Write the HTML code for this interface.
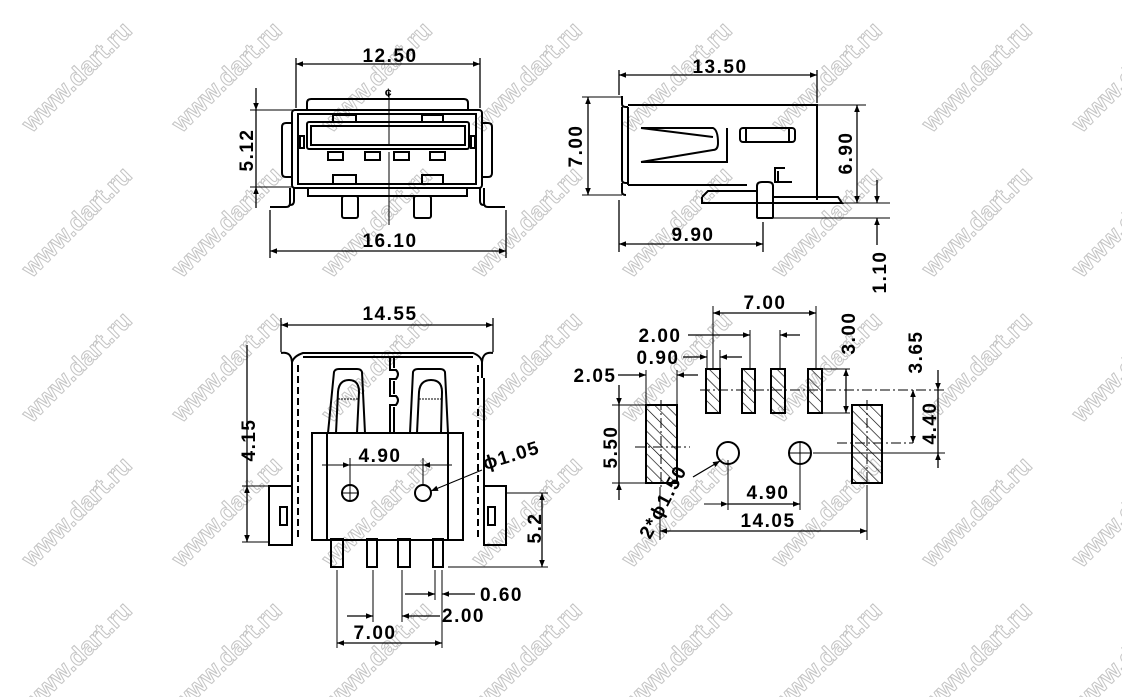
<!DOCTYPE html>
<html><head><meta charset="utf-8"><style>
html,body{margin:0;padding:0;background:#fff;width:1122px;height:697px;overflow:hidden}
svg{display:block}
text{font-family:"Liberation Sans",Arial,sans-serif;font-size:19px;font-weight:bold;fill:#000;letter-spacing:1.5px}
text.w{font-size:25px;font-weight:bold;fill:#fff;stroke:#c4c4c4;stroke-width:1;letter-spacing:0}
</style></head><body>
<svg width="1122" height="697" viewBox="0 0 1122 697" xmlns="http://www.w3.org/2000/svg">
<defs>
<marker id="a" viewBox="0 0 10 10" refX="10" refY="5" markerWidth="10" markerHeight="7" orient="auto-start-reverse" markerUnits="userSpaceOnUse"><path d="M0,1 L10,5 L0,9 z" fill="#000"/></marker>
<pattern id="h" width="8" height="8" patternUnits="userSpaceOnUse" patternTransform="rotate(-45)"><line x1="0" y1="0" x2="0" y2="8" stroke="#000" stroke-width="1.3"/></pattern>
</defs>
<g>
<text class="w" transform="translate(77,77) rotate(-45)" text-anchor="middle" dy="8">www.dart.ru</text>
<text class="w" transform="translate(227,77) rotate(-45)" text-anchor="middle" dy="8">www.dart.ru</text>
<text class="w" transform="translate(377,77) rotate(-45)" text-anchor="middle" dy="8">www.dart.ru</text>
<text class="w" transform="translate(527,77) rotate(-45)" text-anchor="middle" dy="8">www.dart.ru</text>
<text class="w" transform="translate(677,77) rotate(-45)" text-anchor="middle" dy="8">www.dart.ru</text>
<text class="w" transform="translate(827,77) rotate(-45)" text-anchor="middle" dy="8">www.dart.ru</text>
<text class="w" transform="translate(977,77) rotate(-45)" text-anchor="middle" dy="8">www.dart.ru</text>
<text class="w" transform="translate(1127,77) rotate(-45)" text-anchor="middle" dy="8">www.dart.ru</text>
<text class="w" transform="translate(77,222) rotate(-45)" text-anchor="middle" dy="8">www.dart.ru</text>
<text class="w" transform="translate(227,222) rotate(-45)" text-anchor="middle" dy="8">www.dart.ru</text>
<text class="w" transform="translate(377,222) rotate(-45)" text-anchor="middle" dy="8">www.dart.ru</text>
<text class="w" transform="translate(527,222) rotate(-45)" text-anchor="middle" dy="8">www.dart.ru</text>
<text class="w" transform="translate(677,222) rotate(-45)" text-anchor="middle" dy="8">www.dart.ru</text>
<text class="w" transform="translate(827,222) rotate(-45)" text-anchor="middle" dy="8">www.dart.ru</text>
<text class="w" transform="translate(977,222) rotate(-45)" text-anchor="middle" dy="8">www.dart.ru</text>
<text class="w" transform="translate(1127,222) rotate(-45)" text-anchor="middle" dy="8">www.dart.ru</text>
<text class="w" transform="translate(77,367) rotate(-45)" text-anchor="middle" dy="8">www.dart.ru</text>
<text class="w" transform="translate(227,367) rotate(-45)" text-anchor="middle" dy="8">www.dart.ru</text>
<text class="w" transform="translate(377,367) rotate(-45)" text-anchor="middle" dy="8">www.dart.ru</text>
<text class="w" transform="translate(527,367) rotate(-45)" text-anchor="middle" dy="8">www.dart.ru</text>
<text class="w" transform="translate(677,367) rotate(-45)" text-anchor="middle" dy="8">www.dart.ru</text>
<text class="w" transform="translate(827,367) rotate(-45)" text-anchor="middle" dy="8">www.dart.ru</text>
<text class="w" transform="translate(977,367) rotate(-45)" text-anchor="middle" dy="8">www.dart.ru</text>
<text class="w" transform="translate(1127,367) rotate(-45)" text-anchor="middle" dy="8">www.dart.ru</text>
<text class="w" transform="translate(77,512) rotate(-45)" text-anchor="middle" dy="8">www.dart.ru</text>
<text class="w" transform="translate(227,512) rotate(-45)" text-anchor="middle" dy="8">www.dart.ru</text>
<text class="w" transform="translate(377,512) rotate(-45)" text-anchor="middle" dy="8">www.dart.ru</text>
<text class="w" transform="translate(527,512) rotate(-45)" text-anchor="middle" dy="8">www.dart.ru</text>
<text class="w" transform="translate(677,512) rotate(-45)" text-anchor="middle" dy="8">www.dart.ru</text>
<text class="w" transform="translate(827,512) rotate(-45)" text-anchor="middle" dy="8">www.dart.ru</text>
<text class="w" transform="translate(977,512) rotate(-45)" text-anchor="middle" dy="8">www.dart.ru</text>
<text class="w" transform="translate(1127,512) rotate(-45)" text-anchor="middle" dy="8">www.dart.ru</text>
<text class="w" transform="translate(77,657) rotate(-45)" text-anchor="middle" dy="8">www.dart.ru</text>
<text class="w" transform="translate(227,657) rotate(-45)" text-anchor="middle" dy="8">www.dart.ru</text>
<text class="w" transform="translate(377,657) rotate(-45)" text-anchor="middle" dy="8">www.dart.ru</text>
<text class="w" transform="translate(527,657) rotate(-45)" text-anchor="middle" dy="8">www.dart.ru</text>
<text class="w" transform="translate(677,657) rotate(-45)" text-anchor="middle" dy="8">www.dart.ru</text>
<text class="w" transform="translate(827,657) rotate(-45)" text-anchor="middle" dy="8">www.dart.ru</text>
<text class="w" transform="translate(977,657) rotate(-45)" text-anchor="middle" dy="8">www.dart.ru</text>
<text class="w" transform="translate(1127,657) rotate(-45)" text-anchor="middle" dy="8">www.dart.ru</text>
</g>
<g stroke="#000" stroke-width="2" fill="none">
<!-- ===== TOP LEFT VIEW ===== -->
<line x1="296" y1="58" x2="296" y2="108" stroke-width="1.3"/><line x1="480" y1="58" x2="480" y2="108" stroke-width="1.3"/>
<line x1="296" y1="64" x2="480" y2="64" marker-start="url(#a)" marker-end="url(#a)" stroke-width="1.3"/>
<path d="M307,110 V103 Q307,99 311,99 H464 Q468,99 468,103 V110"/>
<rect x="292" y="110" width="190" height="78" rx="3"/>
<rect x="298" y="114" width="178" height="70"/>
<path d="M292,123 H286 Q282,123 282,127 V173 Q282,177 286,177 H292"/>
<path d="M482,123 H488 Q492,123 492,127 V173 Q492,177 488,177 H482"/>
<rect x="300" y="136" width="4" height="12"/><rect x="471" y="136" width="4" height="12"/>
<rect x="307" y="122" width="162" height="27" rx="2"/>
<rect x="311" y="126" width="154" height="19"/>
<rect x="333" y="115" width="23" height="7"/><rect x="422" y="115" width="21" height="7"/>
<rect x="328" y="152" width="15" height="8"/><rect x="365" y="152" width="15" height="8"/>
<rect x="394" y="152" width="15" height="8"/><rect x="430" y="152" width="15" height="8"/>
<rect x="333" y="175" width="23" height="9"/><rect x="422" y="175" width="21" height="9"/>
<path d="M290,188 V203 Q290,207 286,207 H270"/><path d="M294,188 V201 Q294,205 290,205"/>
<path d="M484,188 V203 Q484,207 488,207 H505"/><path d="M480,188 V201 Q480,205 484,205"/>
<path d="M308,188 V196 H467 V188"/>
<rect x="342" y="196" width="16" height="22" rx="2"/><rect x="414" y="196" width="17" height="22" rx="2"/>
<line x1="389" y1="92" x2="389" y2="145" stroke-width="1"/><line x1="389" y1="152" x2="389" y2="225" stroke-width="1"/>
<line x1="270" y1="210" x2="270" y2="258" stroke-width="1.3"/><line x1="506" y1="210" x2="506" y2="258" stroke-width="1.3"/>
<line x1="270" y1="251" x2="506" y2="251" marker-start="url(#a)" marker-end="url(#a)" stroke-width="1.3"/>
<line x1="250" y1="110" x2="296" y2="110" stroke-width="1"/><line x1="250" y1="187" x2="292" y2="187" stroke-width="1"/>
<line x1="256" y1="88" x2="256" y2="110" marker-end="url(#a)" stroke-width="1.3"/><line x1="256" y1="208" x2="256" y2="187" marker-end="url(#a)" stroke-width="1.3"/>
<line x1="256" y1="110" x2="256" y2="187" stroke-width="1.3"/>

<!-- ===== TOP RIGHT VIEW ===== -->
<line x1="619" y1="70" x2="619" y2="95" stroke-width="1.3"/><line x1="817" y1="70" x2="817" y2="103" stroke-width="1.3"/>
<line x1="619" y1="75" x2="817" y2="75" marker-start="url(#a)" marker-end="url(#a)" stroke-width="1.3"/>
<path d="M622,96 V104 Q622,107 626,107 H628"/>
<path d="M628,105 H817 V200"/>
<path d="M622,107 V180 Q622,183 626,183 H628 M622,183 V192 Q622,195 626,195"/>
<line x1="628" y1="107" x2="628" y2="185"/>
<path d="M628,185 H747"/>
<path d="M702,197 L708,191 H757 M702,197 V203 H842 L838,197 H773"/>
<path d="M757,203 V186 Q757,182 762,182 H768 Q773,182 773,186 V203"/>
<rect x="757" y="203" width="16" height="15" rx="1"/>
<rect x="740" y="128" width="55" height="14" rx="3"/><line x1="746" y1="128" x2="746" y2="142"/><line x1="789" y1="128" x2="789" y2="142"/>
<path d="M641,128 H713 Q718,130 718,143 Q718,150 713,150 L641,162 M713,137 L641,128"/>
<path d="M727,128 V162 H641"/>
<path d="M785,168 H775 V182 H792 M778,171 V182"/>
<line x1="582" y1="97" x2="622" y2="97" stroke-width="1"/><line x1="582" y1="195" x2="622" y2="195" stroke-width="1"/>
<line x1="588" y1="97" x2="588" y2="195" marker-start="url(#a)" marker-end="url(#a)" stroke-width="1.3"/>
<line x1="817" y1="105" x2="866" y2="105" stroke-width="1"/><line x1="842" y1="203" x2="890" y2="203" stroke-width="1"/>
<line x1="857" y1="105" x2="857" y2="203" marker-start="url(#a)" marker-end="url(#a)" stroke-width="1.3"/>
<line x1="773" y1="218" x2="890" y2="218" stroke-width="1"/>
<line x1="877" y1="180" x2="877" y2="203" marker-end="url(#a)" stroke-width="1.3"/>
<line x1="877" y1="245" x2="877" y2="218" marker-end="url(#a)" stroke-width="1.3"/>
<line x1="619" y1="200" x2="619" y2="252" stroke-width="1.3"/><line x1="763" y1="222" x2="763" y2="252" stroke-width="1.3"/>
<line x1="619" y1="244" x2="763" y2="244" marker-start="url(#a)" marker-end="url(#a)" stroke-width="1.3"/>

<!-- ===== BOTTOM LEFT VIEW ===== -->
<line x1="281" y1="318" x2="281" y2="352" stroke-width="1.3"/><line x1="493" y1="318" x2="493" y2="352" stroke-width="1.3"/>
<line x1="281" y1="325" x2="493" y2="325" marker-start="url(#a)" marker-end="url(#a)" stroke-width="1.3"/>
<path d="M281,353 Q291,351 292,362 V540"/>
<path d="M493,353 Q483,351 482,362 V378"/>
<line x1="484" y1="378" x2="484" y2="540"/>
<path d="M292,362 Q294,356 303,353 H473 Q481,356 482,362"/>
<path d="M303,357 H473"/>
<line x1="298" y1="365" x2="298" y2="540" stroke-dasharray="7,4"/>
<line x1="478" y1="365" x2="478" y2="540" stroke-dasharray="7,4"/>
<path d="M328,433 L334,372 Q335,369 339,369 H357 Q361,369 362,372 L365,433"/>
<path d="M336,433 L338,392 Q339,380 349,380 Q359,380 359,392 L357,433"/>
<line x1="338" y1="399" x2="359" y2="399" stroke-dasharray="2,1" stroke-width="1"/>
<path d="M410,433 L413,372 Q414,369 418,369 H440 Q444,369 445,372 L448,433"/>
<path d="M417,433 L419,392 Q420,380 431,380 Q442,380 442,392 L441,433"/>
<line x1="419" y1="399" x2="442" y2="399" stroke-dasharray="2,1" stroke-width="1"/>
<path d="M390,357 V370 H396 Q400,374 396,379 H390 V396 H396 Q400,400 396,405 H390 V433"/>
<path d="M394,357 V368 M394,381 V394 M394,407 V433"/>
<rect x="312" y="433" width="151" height="107"/>
<line x1="327" y1="433" x2="327" y2="540"/><line x1="448" y1="433" x2="448" y2="540"/>
<rect x="269" y="486" width="23" height="59"/><rect x="280" y="507" width="7" height="18"/>
<rect x="484" y="486" width="22" height="59"/><rect x="488" y="507" width="7" height="18"/>
<rect x="331" y="539" width="12" height="28"/><rect x="367" y="539" width="10" height="28"/>
<rect x="398" y="539" width="12" height="28"/><rect x="433" y="539" width="10" height="28"/>
<circle cx="350" cy="493" r="8"/><line x1="342" y1="493" x2="358" y2="493" stroke-width="1"/><line x1="350" y1="458" x2="350" y2="501" stroke-width="1"/>
<circle cx="423" cy="493" r="8"/><line x1="423" y1="458" x2="423" y2="485" stroke-width="1"/>
<line x1="322" y1="465" x2="350" y2="465" marker-end="url(#a)" stroke-width="1"/>
<line x1="452" y1="465" x2="423" y2="465" marker-end="url(#a)" stroke-width="1"/>
<line x1="350" y1="465" x2="423" y2="465" stroke-width="1"/>
<line x1="482" y1="470" x2="431" y2="491" marker-end="url(#a)" stroke-width="1"/>
<line x1="247" y1="345" x2="247" y2="486" stroke-width="1.3"/>
<line x1="247" y1="486" x2="247" y2="542" marker-start="url(#a)" marker-end="url(#a)" stroke-width="1.3"/>
<line x1="242" y1="486" x2="269" y2="486" stroke-width="1"/><line x1="242" y1="542" x2="269" y2="542" stroke-width="1"/>
<line x1="506" y1="493" x2="548" y2="493" stroke-width="1"/><line x1="448" y1="567" x2="548" y2="567" stroke-width="1"/>
<line x1="542" y1="493" x2="542" y2="567" marker-start="url(#a)" marker-end="url(#a)" stroke-width="1.3"/>
<g stroke-width="1">
<line x1="337" y1="570" x2="337" y2="648"/><line x1="373" y1="570" x2="373" y2="622"/>
<line x1="402" y1="570" x2="402" y2="622"/><line x1="435" y1="570" x2="435" y2="600"/><line x1="442" y1="570" x2="442" y2="648"/>
</g>
<g stroke-width="1.3">
<line x1="405" y1="594" x2="435" y2="594" marker-end="url(#a)"/>
<line x1="475" y1="594" x2="442" y2="594" marker-end="url(#a)"/>
<line x1="347" y1="616" x2="373" y2="616" marker-end="url(#a)"/>
<line x1="440" y1="616" x2="402" y2="616" marker-end="url(#a)"/>
<line x1="337" y1="643" x2="442" y2="643" marker-start="url(#a)" marker-end="url(#a)"/>
</g>

<!-- ===== BOTTOM RIGHT VIEW ===== -->
<g fill="url(#h)">
<rect x="706" y="369" width="14" height="44"/><rect x="742" y="369" width="13" height="44"/>
<rect x="771" y="369" width="14" height="44"/><rect x="808" y="369" width="14" height="44"/>
<rect x="646" y="405" width="31" height="78"/><rect x="852" y="405" width="30" height="78"/>
</g>
<line x1="661" y1="400" x2="661" y2="490" stroke-width="1" stroke-dasharray="10,3,2,3"/>
<line x1="635" y1="447" x2="690" y2="447" stroke-width="1" stroke-dasharray="10,3,2,3"/>
<line x1="867" y1="400" x2="867" y2="490" stroke-width="1" stroke-dasharray="10,3,2,3"/>
<line x1="700" y1="390" x2="945" y2="390" stroke-width="1" stroke-dasharray="10,3,2,3"/>
<line x1="837" y1="443" x2="913" y2="443" stroke-width="1" stroke-dasharray="10,3,2,3"/>
<line x1="813" y1="453" x2="945" y2="453" stroke-width="1"/>
<circle cx="728" cy="453" r="11"/><circle cx="800" cy="453" r="11"/>
<line x1="789" y1="453" x2="811" y2="453" stroke-width="1"/><line x1="800" y1="442" x2="800" y2="510" stroke-width="1"/>
<line x1="728" y1="460" x2="728" y2="510" stroke-width="1"/>
<line x1="704" y1="504" x2="728" y2="504" marker-end="url(#a)" stroke-width="1"/>
<line x1="728" y1="504" x2="800" y2="504" marker-end="url(#a)" stroke-width="1.3"/>
<line x1="693" y1="477" x2="720" y2="461" marker-end="url(#a)" stroke-width="1.3"/>
<line x1="660" y1="487" x2="660" y2="540" stroke-width="1"/><line x1="867" y1="487" x2="867" y2="540" stroke-width="1"/>
<line x1="660" y1="531" x2="867" y2="531" marker-start="url(#a)" marker-end="url(#a)" stroke-width="1.3"/>
<g stroke-width="1">
<line x1="713" y1="306" x2="713" y2="369"/><line x1="816" y1="306" x2="816" y2="369"/>
<line x1="750" y1="330" x2="750" y2="369"/><line x1="780" y1="330" x2="780" y2="369"/>
<line x1="707" y1="350" x2="707" y2="369"/><line x1="720" y1="350" x2="720" y2="369"/>
<line x1="646" y1="370" x2="646" y2="405"/><line x1="677" y1="370" x2="677" y2="405"/>
<line x1="612" y1="405" x2="646" y2="405"/><line x1="612" y1="483" x2="646" y2="483"/>
<line x1="822" y1="369" x2="850" y2="369"/><line x1="822" y1="413" x2="850" y2="413"/>
</g>
<g stroke-width="1.3">
<line x1="713" y1="313" x2="816" y2="313" marker-start="url(#a)" marker-end="url(#a)"/>
<line x1="688" y1="335" x2="750" y2="335" marker-end="url(#a)"/>
<line x1="800" y1="335" x2="780" y2="335" marker-end="url(#a)"/>
<line x1="683" y1="357" x2="707" y2="357" marker-end="url(#a)"/>
<line x1="742" y1="357" x2="720" y2="357" marker-end="url(#a)"/>
<line x1="618" y1="375" x2="646" y2="375" marker-end="url(#a)"/>
<line x1="698" y1="375" x2="677" y2="375" marker-end="url(#a)"/>
<line x1="619" y1="385" x2="619" y2="405" marker-end="url(#a)"/>
<line x1="619" y1="405" x2="619" y2="483"/>
<line x1="619" y1="500" x2="619" y2="483" marker-end="url(#a)"/>
<line x1="846" y1="369" x2="846" y2="413" marker-start="url(#a)" marker-end="url(#a)"/>
<line x1="913" y1="390" x2="913" y2="443" marker-start="url(#a)" marker-end="url(#a)"/>
<line x1="938" y1="370" x2="938" y2="390" marker-end="url(#a)"/>
<line x1="938" y1="390" x2="938" y2="453"/>
<line x1="938" y1="468" x2="938" y2="453" marker-end="url(#a)"/>
</g>
</g>
<text x="390" y="62" text-anchor="middle">12.50</text>
<text x="389" y="97" text-anchor="middle" style="font-size:12px">¢</text>
<text x="390" y="247" text-anchor="middle">16.10</text>
<text transform="translate(253,150) rotate(-90)" text-anchor="middle">5.12</text>
<text x="720" y="73" text-anchor="middle">13.50</text>
<text transform="translate(582,146) rotate(-90)" text-anchor="middle">7.00</text>
<text transform="translate(852,153) rotate(-90)" text-anchor="middle">6.90</text>
<text transform="translate(886,272) rotate(-90)" text-anchor="middle">1.10</text>
<text x="693" y="241" text-anchor="middle">9.90</text>
<text x="390" y="320" text-anchor="middle">14.55</text>
<text x="380" y="462" text-anchor="middle">4.90</text>
<text transform="translate(485,470) rotate(-17)">ϕ1.05</text>
<text transform="translate(255,440) rotate(-90)" text-anchor="middle">4.15</text>
<text transform="translate(541,528) rotate(-90)" text-anchor="middle">5.2</text>
<text x="480" y="601">0.60</text>
<text x="442" y="622">2.00</text>
<text x="375" y="639" text-anchor="middle">7.00</text>
<text x="765" y="309" text-anchor="middle">7.00</text>
<text x="660" y="342" text-anchor="middle">2.00</text>
<text x="658" y="364" text-anchor="middle">0.90</text>
<text x="595" y="382" text-anchor="middle">2.05</text>
<text transform="translate(617,447) rotate(-90)" text-anchor="middle">5.50</text>
<text transform="translate(855,333) rotate(-90)" text-anchor="middle">3.00</text>
<text transform="translate(922,352) rotate(-90)" text-anchor="middle">3.65</text>
<text transform="translate(936,423) rotate(-90)" text-anchor="middle">4.40</text>
<text x="768" y="499" text-anchor="middle">4.90</text>
<text x="768" y="527" text-anchor="middle">14.05</text>
<text transform="translate(650,540) rotate(-62)">2*ϕ1.50</text>
</svg>
</body></html>
